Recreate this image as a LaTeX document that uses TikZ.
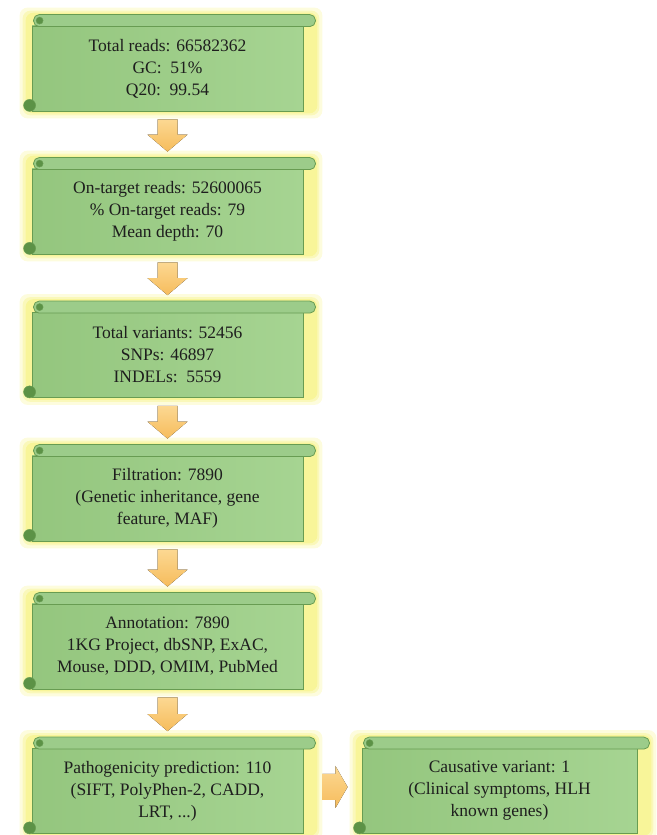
\documentclass[tikz,border=0pt]{standalone}
\usepackage{fontspec}
\setmainfont{Liberation Serif}
\usetikzlibrary{calc}
\pgfdeclarelayer{background}
\pgfsetlayers{background,main}
\definecolor{bodyL}{RGB}{148,198,126}
\definecolor{bodyR}{RGB}{166,212,146}
\definecolor{barfill}{RGB}{156,204,138}
\definecolor{edge}{RGB}{104,156,82}
\definecolor{curl}{RGB}{92,146,70}
\definecolor{glowc}{RGB}{246,242,120}
\definecolor{arrA}{RGB}{252,216,146}
\definecolor{arrB}{RGB}{246,188,92}
\definecolor{txt}{RGB}{30,30,30}
\tikzset{
 scrollbody/.style={draw=edge, line width=0.8pt, left color=bodyL, right color=bodyR,
   minimum width=271pt, minimum height=85pt, inner sep=0pt, align=center, text=txt,
   font=\fontsize{17.5}{22}\selectfont},
 widebody/.style={scrollbody, minimum width=275pt},
 barstyle/.style={draw=edge, line width=0.8pt, fill=barfill, rounded corners=5.5pt},
 curlstyle/.style={fill=curl, draw=edge, line width=0.5pt},
 glowstyle/.style={fill=glowc, fill opacity=#1, rounded corners=8pt},
 blockarrow/.style={top color=arrA, bottom color=arrB, draw=none},
}
\newcommand\scrolldeco[1]{%
 \begin{pgfonlayer}{background}
  \fill[glowstyle=0.25] ($(#1.south west)+(-12,-7)$) rectangle ($(#1.north east)+(19,18)$);
  \fill[glowstyle=0.35] ($(#1.south west)+(-9,-4)$) rectangle ($(#1.north east)+(16,15)$);
  \fill[glowstyle=0.5] ($(#1.south west)+(-6,-2)$) rectangle ($(#1.north east)+(14,13)$);
 \end{pgfonlayer}
 \draw[barstyle] ($(#1.north west)+(2,-1)$) rectangle ($(#1.north east)+(12,11)$);
 \filldraw[curlstyle] ($(#1.north west)+(8,5)$) circle (3.5);
 \filldraw[curlstyle] ($(#1.south west)+(-2,6)$) circle (6);
}
\newcommand\downarr[2]{%
 \fill[blockarrow] ($(#1.south)+(-10,-8)$) -- ($(#1.south)+(10,-8)$)
   -- ($(#2.north)+(10,34)$) -- ($(#2.north)+(20,34)$) -- ($(#2.north)+(0,17)$)
   -- ($(#2.north)+(-20,34)$) -- ($(#2.north)+(-10,34)$) -- cycle;}
\begin{document}
\begin{tikzpicture}[x=1pt,y=1pt]
\useasboundingbox (0,0) rectangle (656,835);
\node[scrollbody] (b1) at (167.5,766.5) {Total reads: 66582362\\GC:\ \ 51\%\\Q20:\ \ 99.54};
\node[scrollbody] (b2) at (167.5,623.5) {On-target reads: 52600065\\\% On-target reads: 79\\Mean depth: 70};
\node[scrollbody] (b3) at (167.5,480) {Total variants: 52456\\SNPs: 46897\\INDELs:\ \ 5559};
\node[scrollbody] (b4) at (167.5,336.5) {Filtration: 7890\\(Genetic inheritance, gene\\feature, MAF)};
\node[scrollbody] (b5) at (167.5,188.5) {Annotation: 7890\\1KG Project, dbSNP, ExAC,\\Mouse, DDD, OMIM, PubMed};
\node[scrollbody] (b6) at (167.5,44) {Pathogenicity prediction: 110\\(SIFT, PolyPhen-2, CADD,\\LRT, ...)};
\node[widebody] (b7) at (499.5,44) {Causative variant: 1\\(Clinical symptoms, HLH\\known genes)};
\scrolldeco{b1}\scrolldeco{b2}\scrolldeco{b3}\scrolldeco{b4}
\scrolldeco{b5}\scrolldeco{b6}\scrolldeco{b7}
\downarr{b1}{b2}\downarr{b2}{b3}\downarr{b3}{b4}\downarr{b4}{b5}\downarr{b5}{b6}
\fill[blockarrow] ($(b6.east)+(19,17)$) -- ($(b6.east)+(32,17)$) -- ($(b6.east)+(32,25)$)
  -- ($(b7.west)+(-14,4)$) -- ($(b6.east)+(32,-17)$) -- ($(b6.east)+(32,-9)$)
  -- ($(b6.east)+(19,-9)$) -- cycle;
\end{tikzpicture}
\end{document}
